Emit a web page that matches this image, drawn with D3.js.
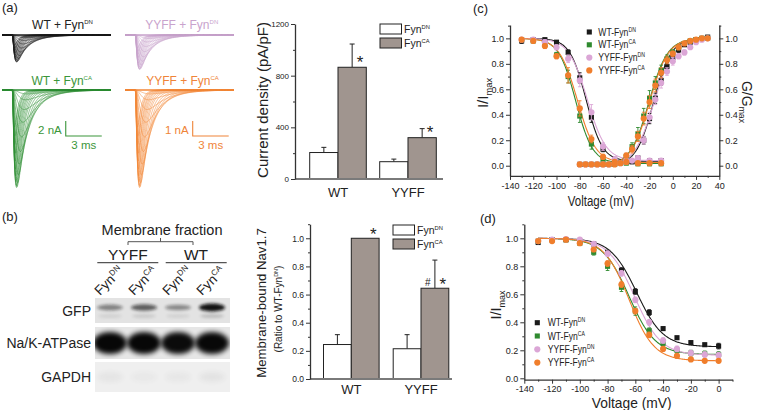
<!DOCTYPE html>
<html><head><meta charset="utf-8">
<script src="https://cdn.jsdelivr.net/npm/d3@7/dist/d3.min.js"></script>
<style>
html,body{margin:0;padding:0;background:#fff;}
svg{display:block;font-family:Arial,"Liberation Sans",Helvetica,sans-serif;}
</style></head><body>
<svg width="760" height="410"></svg>
<script>
// ================= DATA =================
const groups = ["WT", "YYFF"];
const fynForms = ["DN", "CA"];
// (a) current density (pA/pF)
const densityDN = [205, 134];
const densityDNErr = [40, 20];
const densityCA = [865, 320];
const densityCAErr = [180, 70];
const densityTicks = [0, 400, 800, 1200];
const densityMinorTicks = [200, 600, 1000];
// (b) membrane-bound Nav1.7 (ratio to WT-FynDN)
const memDN = [0.245, 0.215];
const memDNErr = [0.07, 0.10];
const memCA = [1.0, 0.645];
const memCAErr = [0, 0.20];
const memTicks = [0, 0.2, 0.4, 0.6, 0.8, 1.0];
const memMinorTicks = [0.1, 0.3, 0.5, 0.7, 0.9, 1.1];
// (b) western blot lanes and band intensities
const blotLanes = ["YYFF-DN", "YYFF-CA", "WT-DN", "WT-CA"];
const blotLaneLabels = ["DN", "CA", "DN", "CA"];
const gfpBand = [0.45, 0.62, 0.42, 0.97];
const nakBand = [0.97, 0.97, 0.95, 0.96];
const gapdhBand = [0.05, 0.03, 0.04, 0.06];
// (a) current traces
const traceTitles = ["WT + Fyn", "YYFF + Fyn", "WT + Fyn", "YYFF + Fyn"];
const traceSup = ["DN", "DN", "CA", "CA"];
const tracePeakNA = [3.6, 2.3, 13, 6.5];
const traceBarNA = [2, 1, 2, 1];
const sweepAmp  = [0.04,0.10,0.20,0.33,0.48,0.63,0.76,0.87,0.95,0.99,1.00,0.98,0.94,0.88,0.81,0.73,0.65,0.56,0.47,0.38];
const sweepTauM = [0.50,0.45,0.40,0.36,0.32,0.28,0.24,0.21,0.19,0.17,0.15,0.14,0.13,0.12,0.11,0.10,0.10,0.09,0.09,0.08];
const sweepTauH = [1.9,1.7,1.5,1.3,1.12,0.97,0.84,0.73,0.64,0.56,0.50,0.46,0.42,0.39,0.37,0.35,0.33,0.31,0.30,0.29];
// (c) / (d) series
const seriesLabel = ["WT-Fyn", "WT-Fyn", "YYFF-Fyn", "YYFF-Fyn"];
const seriesSup = ["DN", "CA", "DN", "CA"];
const seriesShape = ["square", "square", "circle", "circle"];
// (c) steady-state inactivation
const inactV = [-130,-120,-110,-100,-90,-80,-70,-60,-50,-40,-30,-20,-10];
const inactWTDN   = [0.98,0.99,0.99,0.97,0.89,0.69,0.38,0.13,0.05,0.03,0.04,0.04,0.04];
const inactWTCA   = [0.99,0.98,0.95,0.87,0.70,0.39,0.17,0.05,0.02,0.02,0.015,0.015,0.015];
const inactYYDN   = [0.99,0.99,0.97,0.93,0.84,0.67,0.42,0.15,0.05,0.04,0.04,0.04,0.04];
const inactYYCA   = [0.99,0.98,0.94,0.86,0.71,0.45,0.21,0.07,0.03,0.03,0.02,0.02,0.02];
const inactErrWTDN = [0.02,0.01,0.01,0.01,0.02,0.04,0.04,0.02,0.01,0.01,0.01,0.01,0.01];
const inactErrWTCA = [0.01,0.01,0.02,0.02,0.05,0.05,0.04,0.02,0.01,0.01,0.01,0.01,0.01];
const inactErrYYDN = [0.01,0.01,0.02,0.02,0.03,0.05,0.06,0.03,0.02,0.01,0.01,0.01,0.01];
const inactErrYYCA = [0.01,0.01,0.02,0.02,0.06,0.06,0.03,0.02,0.01,0.01,0.01,0.01,0.01];
const inactHalf = [-74.5, -83.5, -73.5, -82];
const inactSlope = [7, 7.3, 8, 7.8];
const inactFloor = [0.035, 0.018, 0.04, 0.025];
// (c) activation (G/Gmax)
const actV = [-80,-75,-70,-65,-60,-55,-50,-45,-40,-35,-30,-25,-20,-15,-10,-5,0,5,10,15,20,25,30];
const actWTDN = [0.01,0.01,0.01,0.01,0.01,0.01,0.02,0.02,0.03,0.03,0.06,0.20,0.37,0.53,0.67,0.78,0.85,0.91,0.95,0.97,0.99,1.00,1.01];
const actWTCA = [0.01,0.01,0.01,0.01,0.01,0.01,0.01,0.02,0.07,0.15,0.25,0.39,0.53,0.65,0.75,0.84,0.89,0.93,0.96,0.98,0.99,1.00,1.00];
const actYYDN = [0.01,0.01,0.01,0.01,0.01,0.01,0.02,0.02,0.03,0.04,0.06,0.20,0.38,0.52,0.65,0.74,0.82,0.86,0.89,0.93,0.97,0.99,1.00];
const actYYCA = [0.01,0.01,0.01,0.01,0.01,0.01,0.01,0.02,0.08,0.13,0.23,0.37,0.50,0.63,0.73,0.83,0.88,0.93,0.96,0.98,0.99,1.00,1.00];
const actErrWTDN = [0,0,0,0,0,0,0,0,0.01,0.01,0.02,0.03,0.04,0.04,0.04,0.03,0.02,0.02,0.01,0.01,0.01,0,0];
const actErrWTCA = [0,0,0,0,0,0,0,0,0.02,0.03,0.05,0.06,0.06,0.05,0.04,0.03,0.02,0.02,0.01,0.01,0.01,0,0];
const actErrYYDN = [0,0,0,0,0,0,0,0,0.01,0.01,0.02,0.03,0.04,0.04,0.04,0.03,0.03,0.02,0.02,0.01,0.01,0,0];
const actErrYYCA = [0,0,0,0,0,0,0,0,0.02,0.03,0.04,0.05,0.05,0.05,0.04,0.03,0.02,0.02,0.01,0.01,0.01,0,0];
const actHalf = [-16.5, -20.5, -16, -20];
const actSlope = [7.5, 8, 8.5, 8];
// (d) closed-state inactivation
const closedV = [-130,-120,-110,-100,-90,-80,-70,-60,-50,-40,-30,-20,-10,0];
const closedWTDN = [0.97,0.99,0.99,0.98,0.96,0.90,0.77,0.62,0.47,0.355,0.29,0.255,0.24,0.23];
const closedWTCA = [0.98,0.99,0.99,0.965,0.90,0.80,0.65,0.48,0.34,0.25,0.20,0.18,0.175,0.17];
const closedYYDN = [0.98,0.99,0.995,0.99,0.96,0.89,0.75,0.56,0.40,0.27,0.21,0.18,0.17,0.165];
const closedYYCA = [0.98,0.98,0.99,0.965,0.92,0.82,0.67,0.48,0.31,0.21,0.16,0.135,0.125,0.125];
const closedErrWTDN = [0.01,0.01,0.01,0.01,0.01,0.01,0.02,0.02,0.02,0.01,0.01,0.01,0.01,0.02];
const closedErrWTCA = [0.01,0.01,0.01,0.01,0.02,0.03,0.03,0.03,0.02,0.02,0.02,0.02,0.02,0.02];
const closedErrYYDN = [0.01,0.01,0.01,0.01,0.01,0.02,0.02,0.02,0.02,0.02,0.02,0.02,0.02,0.02];
const closedErrYYCA = [0.01,0.01,0.01,0.01,0.01,0.02,0.02,0.02,0.02,0.01,0.01,0.01,0.01,0.01];
const closedHalf = [-59, -64.5, -60.5, -64.5];
const closedSlope = [9.5, 9.5, 9.5, 9];
const closedFloor = [0.225, 0.17, 0.165, 0.125];

// ================= STYLE =================
const F = 'Arial, "Liberation Sans", Helvetica, sans-serif';
const seriesColor = ["#1a1a1a", "#2f8a2f", "#dba6d6", "#f07e2c"];
const traceColor = ["#1c1c1c", "#c7a2cb", "#2d8d33", "#f28738"];
const traceTitleColor = ["#222", "#c9a3cd", "#3a963a", "#ef8438"];
const barFill = "#a0958f";
const axisColor = "#333";

const svg = d3.select("svg");

function label(parent, x, y, parts, opt = {}) {
  const size = opt.size || 12;
  const tr = `translate(${x},${y})` + (opt.rotate ? ` rotate(${opt.rotate})` : "") + (opt.sx ? ` scale(${opt.sx},1)` : "");
  const t = parent.append("text").attr("transform", tr)
    .attr("text-anchor", opt.anchor || "start")
    .attr("font-family", F).attr("font-size", size)
    .attr("fill", opt.color || "#222");
  if (opt.weight) t.attr("font-weight", opt.weight);
  let shift = 0;
  (typeof parts === "string" ? [[parts, "n"]] : parts).forEach(([s, k]) => {
    let target = 0, fs = size;
    if (k === "sup") { target = -size * 0.38; fs = size * (opt.supScale || 0.55); }
    if (k === "sub") { target = size * 0.25; fs = size * (opt.subScale || 0.62); }
    t.append("tspan").attr("dy", target - shift).attr("font-size", fs).text(s);
    shift = target;
  });
  return t;
}

function styleAxis(a, fs) {
  a.attr("font-family", F);
  a.select(".domain").attr("stroke", axisColor).attr("stroke-width", 1.3);
  a.selectAll(".tick line").attr("stroke", axisColor).attr("stroke-width", 1);
  a.selectAll(".tick text").attr("font-size", fs).attr("fill", "#222").attr("font-family", F);
}
function vAxis(g, y, x, ticks, minor, fmt, fs, right) {
  const axf = right ? d3.axisRight : d3.axisLeft;
  const a = g.append("g").attr("transform", `translate(${x},0)`)
    .call(axf(y).tickValues(ticks).tickFormat(fmt).tickSize(4).tickSizeOuter(0).tickPadding(2));
  styleAxis(a, fs);
  if (minor) {
    const m = g.append("g").attr("transform", `translate(${x},0)`)
      .call(axf(y).tickValues(minor).tickFormat("").tickSize(2).tickSizeOuter(0));
    m.select(".domain").remove();
    m.selectAll(".tick line").attr("stroke", axisColor);
  }
}
function hAxis(g, x, y, ticks, minor, fmt, fs, pad) {
  const a = g.append("g").attr("transform", `translate(0,${y})`)
    .call(d3.axisBottom(x).tickValues(ticks).tickFormat(fmt).tickSize(4).tickSizeOuter(0).tickPadding(pad || 3));
  styleAxis(a, fs);
  if (minor) {
    const m = g.append("g").attr("transform", `translate(0,${y})`)
      .call(d3.axisBottom(x).tickValues(minor).tickFormat("").tickSize(2).tickSizeOuter(0));
    m.select(".domain").remove();
    m.selectAll(".tick line").attr("stroke", axisColor);
  }
}

// ================= (a) TRACES =================
label(svg, 2, 12, "(a)", { size: 13 });
const traceGeo = [
  { x0: 2, base: 35, cx: 62.5, ty: 28.5 },
  { x0: 125, base: 35, cx: 181.7, ty: 28.5 },
  { x0: 2, base: 90, cx: 61.7, ty: 84.5 },
  { x0: 125, base: 90, cx: 182.5, ty: 84.5 }
];
const tSamples = d3.range(0, 9.08, 0.02);
const onset = 0.85;
function sweepShape(tm, th) {
  const f = t => t <= 0 ? 0 : Math.pow(1 - Math.exp(-t / tm), 3) * Math.exp(-t / th);
  const peak = d3.max(d3.range(0, 5, 0.005), f);
  return t => f(t) / peak;
}
const shapes = sweepAmp.map((a, i) => sweepShape(sweepTauM[i], sweepTauH[i]));
traceGeo.forEach((geo, p) => {
  const g = svg.append("g");
  const xt = d3.scaleLinear().domain([0, 9.08]).range([geo.x0, geo.x0 + 109]);
  const yc = d3.scaleLinear().domain([0, -traceBarNA[p]]).range([geo.base, geo.base + 15]);
  const line = d3.line().x(d => xt(d[0])).y(d => yc(d[1]));
  sweepAmp.forEach((a, i) => {
    const pts = tSamples.map(t => [t, -a * tracePeakNA[p] * shapes[i](t - onset)]);
    g.append("path").attr("d", line(pts)).attr("fill", "none")
      .attr("stroke", traceColor[p]).attr("stroke-width", 0.6).attr("opacity", 0.9);
  });
  g.append("line").attr("x1", xt(0)).attr("x2", xt(9.08)).attr("y1", yc(0)).attr("y2", yc(0))
    .attr("stroke", traceColor[p]).attr("stroke-width", 1.6);
  label(svg, geo.cx, geo.ty, [[traceTitles[p], "n"], [traceSup[p], "sup"]],
    { size: 12, anchor: "middle", color: traceTitleColor[p], supScale: 0.5 });
  if (p >= 2) {
    const tb = p === 2 ? 5.31 : 5.64;
    const yTop = geo.base + 31;
    const bx = xt(tb), by = yTop + (yc(-traceBarNA[p]) - yc(0));
    g.append("path").attr("d", `M${bx},${yTop}V${by}H${xt(tb + 3)}`)
      .attr("fill", "none").attr("stroke", traceTitleColor[p]).attr("stroke-width", 1.1);
    label(svg, bx - 4, yTop + 12.5, `${traceBarNA[p]} nA`, { size: 11.5, anchor: "end", color: traceTitleColor[p] });
    label(svg, (bx + xt(tb + 3)) / 2, by + 13, "3 ms", { size: 11.5, anchor: "middle", color: traceTitleColor[p] });
  }
});

// ================= BAR CHART HELPER =================
function barChart(cfg) {
  const g = svg.append("g");
  const { y, xg, bw, dn, dnErr, ca, caErr, axisX, axisEnd, ticks, minor, fmt, fs } = cfg;
  const inner = d3.scaleBand().domain(fynForms).range([-bw, bw]);
  const vals = [[dn, dnErr, "#fff"], [ca, caErr, barFill]];
  groups.forEach((grp, i) => {
    vals.forEach(([v, e, fill], j) => {
      const x = xg(grp) + inner(fynForms[j]);
      const cx = x + inner.bandwidth() / 2;
      if (e[i] > 0) {
        g.append("line").attr("x1", cx).attr("x2", cx).attr("y1", y(v[i])).attr("y2", y(v[i] + e[i]))
          .attr("stroke", "#222").attr("stroke-width", 1);
        g.append("line").attr("x1", cx - 2.5).attr("x2", cx + 2.5).attr("y1", y(v[i] + e[i])).attr("y2", y(v[i] + e[i]))
          .attr("stroke", "#222").attr("stroke-width", 1);
      }
      g.append("rect").attr("x", x).attr("y", y(v[i])).attr("width", inner.bandwidth())
        .attr("height", y(0) - y(v[i])).attr("fill", fill).attr("stroke", "#222").attr("stroke-width", 1);
    });
    label(g, xg(grp), cfg.xLabelY, grp, { size: 13, anchor: "middle" });
  });
  g.append("line").attr("x1", axisX).attr("x2", axisEnd).attr("y1", y(0)).attr("y2", y(0))
    .attr("stroke", "#7a7a7a").attr("stroke-width", 2);
  vAxis(g, y, axisX, ticks, minor, fmt, fs, false);
  const L = cfg.legend;
  fynForms.forEach((f, j) => {
    g.append("rect").attr("x", L.x).attr("y", L.y + j * 14).attr("width", 21.5).attr("height", 10)
      .attr("fill", j ? barFill : "#fff").attr("stroke", "#222").attr("stroke-width", 1);
    label(g, L.x + 24, L.y + j * 14 + 8.7, [["Fyn", "n"], [f, "sup"]], { size: 10.5, supScale: 0.55 });
  });
  return { g, inner };
}
// star: glyph centre at (cx, cy)
function star(g, cx, cy) { label(g, cx, cy + 7, "*", { size: 17, anchor: "middle" }); }

// ================= (a) BAR CHART =================
{
  const y = d3.scaleLinear().domain([0, 1200]).range([179, 24]);
  const xg = d3.scalePoint().domain(groups).range([338, 408]);
  const { g, inner } = barChart({
    y, xg, bw: 28.3, dn: densityDN, dnErr: densityDNErr, ca: densityCA, caErr: densityCAErr,
    axisX: 295, axisEnd: 443, ticks: densityTicks, minor: densityMinorTicks, fmt: d => String(d), fs: 8,
    xLabelY: 196.5, legend: { x: 380, y: 24 }
  });
  groups.forEach((grp, i) => {
    const cx = xg(grp) + inner("CA") + inner.bandwidth() / 2;
    star(g, cx + 8, y(densityCA[i]) - 6.5);
  });
  label(g, 268, 100, "Current density (pA/pF)", { size: 15, anchor: "middle", rotate: -90 });
}

// ================= (b) BAR CHART =================
{
  const y = d3.scaleLinear().domain([0, 1.1]).range([379, 224.2]);
  const xg = d3.scalePoint().domain(groups).range([351.3, 421]);
  const { g, inner } = barChart({
    y, xg, bw: 27.8, dn: memDN, dnErr: memDNErr, ca: memCA, caErr: memCAErr,
    axisX: 310, axisEnd: 452, ticks: memTicks, minor: memMinorTicks, fmt: d3.format(".1f"), fs: 8.5,
    xLabelY: 393.5, legend: { x: 393, y: 225 }
  });
  const cxWT = xg("WT") + inner("CA") + inner.bandwidth() / 2;
  star(g, cxWT + 8, y(memCA[0]) - 5.5);
  const cxYY = xg("YYFF") + inner("CA") + inner.bandwidth() / 2;
  star(g, cxYY + 8, y(memCA[1]) - 5.5);
  label(g, cxYY - 7, y(memCA[1]) - 2.5, "#", { size: 10, anchor: "middle" });
  label(g, 266, 303, "Membrane-bound Nav1.7", { size: 13.2, anchor: "middle", rotate: -90 });
  label(g, 282, 309, [["(Ratio to WT-Fyn", "n"], ["DN", "sup"], [")", "n"]], { size: 10, anchor: "middle", rotate: -90 });
}

// ================= (b) WESTERN BLOT =================
{
  const g = svg.append("g");
  label(g, 2, 221, "(b)", { size: 13 });
  label(g, 162, 235, "Membrane fraction", { size: 14.5, anchor: "middle" });
  g.append("path").attr("d", "M128,245V241.7H193V245M160.5,241.7V238").attr("fill", "none").attr("stroke", "#555").attr("stroke-width", 1);
  label(g, 127.8, 260, "YYFF", { size: 15.5, anchor: "middle" });
  label(g, 196, 260, "WT", { size: 15.5, anchor: "middle" });
  g.append("line").attr("x1", 97.3).attr("x2", 158.3).attr("y1", 262.7).attr("y2", 262.7).attr("stroke", "#555").attr("stroke-width", 1.2);
  g.append("line").attr("x1", 165.7).attr("x2", 226.7).attr("y1", 262.7).attr("y2", 262.7).attr("stroke", "#555").attr("stroke-width", 1.2);
  const xl = d3.scaleBand().domain(blotLanes).range([94, 228]).paddingInner(0.06);
  blotLanes.forEach((ln, i) => {
    label(g, xl(ln) + 6, 296, [["Fyn", "n"], [blotLaneLabels[i], "sup"]], { size: 13.5, rotate: -45, supScale: 0.6 });
  });
  const defs = svg.append("defs");
  defs.append("filter").attr("id", "blur").attr("x", "-50%").attr("y", "-50%").attr("width", "200%").attr("height", "200%")
    .append("feGaussianBlur").attr("stdDeviation", 1.6);
  defs.append("filter").attr("id", "blur2").attr("x", "-50%").attr("y", "-50%").attr("width", "200%").attr("height", "200%")
    .append("feGaussianBlur").attr("stdDeviation", 2.6);
  const strips = [
    { name: "GFP", y0: 298, y1: 323, fill: "#e3e3e3" },
    { name: "Na/K-ATPase", y0: 327, y1: 359, fill: "#e6e6e6" },
    { name: "GAPDH", y0: 362, y1: 392, fill: "#efefef" }
  ];
  strips.forEach((s, k) => {
    const cp = defs.append("clipPath").attr("id", "strip" + k);
    cp.append("rect").attr("x", 95).attr("y", s.y0).attr("width", 135).attr("height", s.y1 - s.y0);
    g.append("rect").attr("x", 95).attr("y", s.y0).attr("width", 135).attr("height", s.y1 - s.y0).attr("fill", s.fill);
    label(g, 91, (s.y0 + s.y1) / 2 + 5, s.name, { size: 14, anchor: "end" });
  });
  const gg = g.append("g").attr("clip-path", "url(#strip0)");
  blotLanes.forEach((ln, i) => {
    const cx = xl(ln) + xl.bandwidth() / 2;
    gg.append("ellipse").attr("cx", cx).attr("cy", 307.5).attr("rx", 13).attr("ry", 2 + gfpBand[i] * 2)
      .attr("fill", "#111").attr("opacity", gfpBand[i]).attr("filter", "url(#blur)");
    gg.append("ellipse").attr("cx", cx).attr("cy", 316).attr("rx", 12).attr("ry", 2)
      .attr("fill", "#333").attr("opacity", gfpBand[i] * 0.22).attr("filter", "url(#blur)");
  });
  const gn = g.append("g").attr("clip-path", "url(#strip1)");
  blotLanes.forEach((ln, i) => {
    const cx = xl(ln) + xl.bandwidth() / 2;
    gn.append("ellipse").attr("cx", cx).attr("cy", 343).attr("rx", 17).attr("ry", 11)
      .attr("fill", "#050505").attr("opacity", nakBand[i]).attr("filter", "url(#blur2)");
  });
  const ga = g.append("g").attr("clip-path", "url(#strip2)");
  blotLanes.forEach((ln, i) => {
    const cx = xl(ln) + xl.bandwidth() / 2;
    ga.append("ellipse").attr("cx", cx).attr("cy", 377).attr("rx", 13).attr("ry", 5)
      .attr("fill", "#333").attr("opacity", gapdhBand[i]).attr("filter", "url(#blur2)");
  });
}

// ================= SERIES HELPERS =================
function drawSeries(g, x, y, vs, vals, errs, color, shape) {
  vs.forEach((v, i) => {
    if (errs && errs[i] > 0) {
      const px = x(v);
      g.append("path").attr("d", `M${px - 1.8},${y(vals[i] + errs[i])}H${px + 1.8}M${px},${y(vals[i] + errs[i])}V${y(vals[i] - errs[i])}M${px - 1.8},${y(vals[i] - errs[i])}H${px + 1.8}`)
        .attr("stroke", color).attr("stroke-width", 0.9).attr("fill", "none");
    }
  });
  const sym = d3.symbol().type(shape === "square" ? d3.symbolSquare : d3.symbolCircle).size(shape === "square" ? 26 : 30);
  vs.forEach((v, i) => {
    g.append("path").attr("d", sym()).attr("transform", `translate(${x(v)},${y(vals[i])})`).attr("fill", color);
  });
}
function legend(g, x, tx, rows, fs, sx) {
  rows.forEach((ry, k) => {
    const sym = d3.symbol().type(seriesShape[k] === "square" ? d3.symbolSquare : d3.symbolCircle).size(seriesShape[k] === "square" ? 26 : 30);
    g.append("path").attr("d", sym()).attr("transform", `translate(${x},${ry})`).attr("fill", seriesColor[k]);
    label(g, tx, ry + 3.6, [[seriesLabel[k], "n"], [seriesSup[k], "sup"]], { size: fs, sx, supScale: 0.6 });
  });
}
const boltzDown = (v, h, k, f) => f + (1 - f) / (1 + Math.exp((v - h) / k));
const boltzUp = (v, h, k) => 1 / (1 + Math.exp((h - v) / k));

// ================= (c) =================
{
  const g = svg.append("g");
  label(g, 473, 13, "(c)", { size: 13 });
  const x = d3.scaleLinear().domain([-140, 40]).range([510, 719.3]);
  const y = d3.scaleLinear().domain([-0.08, 1.105]).range([175.9, 25]);
  vAxis(g, y, 510, [0, 0.2, 0.4, 0.6, 0.8, 1.0], [0.1, 0.3, 0.5, 0.7, 0.9, 1.1], d3.format(".1f"), 9, false);
  vAxis(g, y, 719.3, [0, 0.2, 0.4, 0.6, 0.8, 1.0], [0.1, 0.3, 0.5, 0.7, 0.9, 1.1], d3.format(".1f"), 9, true);
  hAxis(g, x, 175.9, d3.range(-140, 41, 20), d3.range(-130, 40, 20), d => String(d), 9);
  label(g, 601, 206, "Voltage (mV)", { size: 14, anchor: "middle", sx: 0.82 });
  label(g, 488, 93, [["I/I", "n"], ["max", "sub"]], { size: 15, anchor: "middle", rotate: -90 });
  label(g, 742, 102, [["G/G", "n"], ["max", "sub"]], { size: 14, anchor: "middle", rotate: 90 });
  const inact = [inactWTDN, inactWTCA, inactYYDN, inactYYCA];
  const inactErr = [inactErrWTDN, inactErrWTCA, inactErrYYDN, inactErrYYCA];
  const act = [actWTDN, actWTCA, actYYDN, actYYCA];
  const actErr = [actErrWTDN, actErrWTCA, actErrYYDN, actErrYYCA];
  const line = d3.line().x(d => x(d[0])).y(d => y(d[1]));
  const fitInV = d3.range(-130, -9.9, 0.5);
  const fitActV = d3.range(-80, 30.1, 0.5);
  [0, 1, 2, 3].forEach(s => {
    g.append("path").attr("d", line(fitInV.map(v => [v, boltzDown(v, inactHalf[s], inactSlope[s], inactFloor[s])])))
      .attr("fill", "none").attr("stroke", seriesColor[s]).attr("stroke-width", 1.1);
    g.append("path").attr("d", line(fitActV.map(v => [v, boltzUp(v, actHalf[s], actSlope[s])])))
      .attr("fill", "none").attr("stroke", seriesColor[s]).attr("stroke-width", 1.1);
  });
  [0, 1, 2, 3].forEach(s => {
    drawSeries(g, x, y, inactV, inact[s], inactErr[s], seriesColor[s], seriesShape[s]);
    drawSeries(g, x, y, actV, act[s], actErr[s], seriesColor[s], seriesShape[s]);
  });
  legend(g, 589.3, 598.3, [32, 44.8, 57.6, 70.4], 10.5, 0.82);
}

// ================= (d) =================
{
  const g = svg.append("g");
  label(g, 480, 223, "(d)", { size: 13 });
  const x = d3.scaleLinear().domain([-140, 10]).range([524.3, 732.5]);
  const y = d3.scaleLinear().domain([-0.01, 1.1]).range([379.7, 224.3]);
  vAxis(g, y, 524.3, [0, 0.2, 0.4, 0.6, 0.8, 1.0], [0.1, 0.3, 0.5, 0.7, 0.9, 1.1], d3.format(".1f"), 9, false);
  hAxis(g, x, 379.7, d3.range(-140, 1, 20), d3.range(-130, 11, 20), d => String(d), 9, 2);
  label(g, 631.7, 407.5, "Voltage (mV)", { size: 15, anchor: "middle", sx: 0.92 });
  label(g, 501, 305, [["I/I", "n"], ["max", "sub"]], { size: 14.5, anchor: "middle", rotate: -90 });
  const closed = [closedWTDN, closedWTCA, closedYYDN, closedYYCA];
  const closedErr = [closedErrWTDN, closedErrWTCA, closedErrYYDN, closedErrYYCA];
  const line = d3.line().x(d => x(d[0])).y(d => y(d[1]));
  const fitV = d3.range(-130, 0.1, 0.5);
  [0, 1, 2, 3].forEach(s => {
    g.append("path").attr("d", line(fitV.map(v => [v, boltzDown(v, closedHalf[s], closedSlope[s], closedFloor[s])])))
      .attr("fill", "none").attr("stroke", seriesColor[s]).attr("stroke-width", 1.1);
  });
  [0, 1, 2, 3].forEach(s => drawSeries(g, x, y, closedV, closed[s], closedErr[s], seriesColor[s], seriesShape[s]));
  legend(g, 537.3, 547.7, [322.7, 336, 349.3, 362.6], 10.5, 0.82);
}
</script>
</body></html>
